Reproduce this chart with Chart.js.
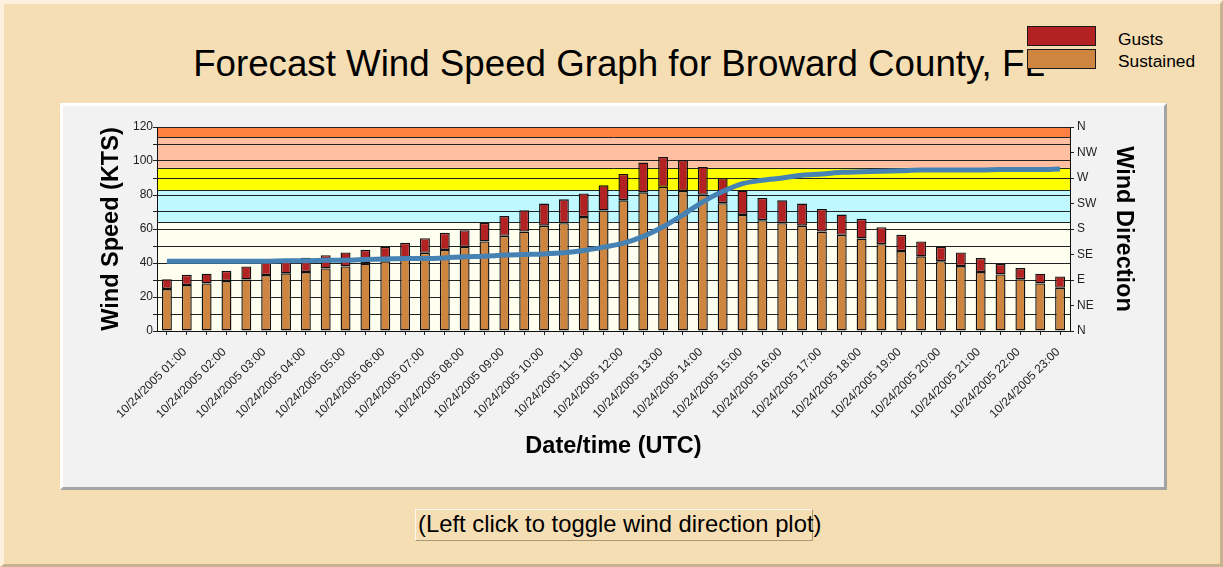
<!DOCTYPE html>
<html>
<head>
<meta charset="utf-8">
<script src="https://cdn.jsdelivr.net/npm/chart.js@4.4.0/dist/chart.umd.min.js"></script>
<style>
html,body{margin:0;padding:0;}
body{width:1223px;height:567px;overflow:hidden;position:relative;font-family:'Liberation Sans',Arial,sans-serif;background:#F5DEB3;}
#frame{position:absolute;left:0;top:0;width:1223px;height:567px;box-sizing:border-box;border-style:solid;border-width:4px 3px 3px 4px;border-color:#FDF1DE #C8B38E #C8B38E #FDF1DE;background:#F5DEB3;}
#title{position:absolute;left:0;width:1238px;top:46px;text-align:center;font-size:36.7px;line-height:36.7px;color:#000;white-space:nowrap;}
.lbox{position:absolute;left:1027px;width:69px;height:20px;box-sizing:border-box;border:1px solid #1a1a1a;}
.ltxt{position:absolute;left:1118px;font-size:17.33px;line-height:17.33px;color:#000;white-space:nowrap;}
#panel{position:absolute;left:60px;top:103px;width:1107px;height:387px;box-sizing:border-box;border-style:solid;border-width:3px;border-color:#ffffff #a3a3a3 #a3a3a3 #ffffff;background:#F2F2F2;}
#chartwrap{position:absolute;left:63px;top:106px;width:1100px;height:380px;}
#btn{position:absolute;left:415px;top:509px;width:398px;height:32px;box-sizing:border-box;border-style:solid;border-width:1px;border-color:#FFF8EC #A89876 #A89876 #FFF8EC;}
#btntxt{position:absolute;left:418px;top:512px;font-size:23.8px;line-height:23.8px;white-space:nowrap;color:#000;}
</style>
</head>
<body>
<div id="frame"></div>
<div id="title">Forecast Wind Speed Graph for Broward County, FL</div>
<div class="lbox" style="top:26px;background:#B22222;"></div>
<div class="lbox" style="top:49px;background:#CD853F;"></div>
<div class="ltxt" style="top:31px;">Gusts</div>
<div class="ltxt" style="top:53px;">Sustained</div>
<div id="panel"></div>
<div id="chartwrap"><canvas id="c" width="1100" height="380"></canvas></div>
<div id="btn"></div>
<div id="btntxt">(Left click to toggle wind direction plot)</div>
<script>
const times = [
"10/24/2005 00:30","10/24/2005 01:00","10/24/2005 01:30","10/24/2005 02:00","10/24/2005 02:30","10/24/2005 03:00",
"10/24/2005 03:30","10/24/2005 04:00","10/24/2005 04:30","10/24/2005 05:00","10/24/2005 05:30","10/24/2005 06:00",
"10/24/2005 06:30","10/24/2005 07:00","10/24/2005 07:30","10/24/2005 08:00","10/24/2005 08:30","10/24/2005 09:00",
"10/24/2005 09:30","10/24/2005 10:00","10/24/2005 10:30","10/24/2005 11:00","10/24/2005 11:30","10/24/2005 12:00",
"10/24/2005 12:30","10/24/2005 13:00","10/24/2005 13:30","10/24/2005 14:00","10/24/2005 14:30","10/24/2005 15:00",
"10/24/2005 15:30","10/24/2005 16:00","10/24/2005 16:30","10/24/2005 17:00","10/24/2005 17:30","10/24/2005 18:00",
"10/24/2005 18:30","10/24/2005 19:00","10/24/2005 19:30","10/24/2005 20:00","10/24/2005 20:30","10/24/2005 21:00",
"10/24/2005 21:30","10/24/2005 22:00","10/24/2005 22:30","10/24/2005 23:00"];

const sustained = [24.7,27,28,29.4,30.3,32.9,33.9,34.7,36.8,38,39.7,41,42,46,47.7,49.5,52.7,56,58.5,61.9,63.4,67,70.9,76.9,81.6,84.8,82.4,80.1,75.2,68.3,65.2,63.4,61.9,58.5,56.6,54.4,51.1,47,43.9,41.1,38.2,34.7,33.3,30.5,28,25.4];
const gusts = [30.5,33.1,33.7,35.4,38,40.5,41.5,43.1,44.6,46.2,47.8,49.5,51.9,54.6,57.8,59.3,63.6,67.7,71.1,75,77.5,80.9,85.7,92.4,99.1,102.4,100.6,96.5,89.9,82.6,78.3,76.9,75,71.8,68.5,66,61.1,56.6,52.7,49.5,46.2,42.9,39.4,37,33.7,32.1];
const direction = [123,123,123,123,123,123,124,124,125,125,126,127,128,128,129,131,132,134,135,136,138,142,148,155,167,184,205,228,246,260,266,270,275,277,280,281,282,283,284,284,284,284,285,285,285,286];

const speedTicks = [0,20,40,60,80,100,120];
const dirLabels = ['N','NE','E','SE','S','SW','W','NW','N'];
const bandEdges = [0,64,83,96,114,120];
const bandColors = ['#FFFFF0','#C0F8FF','#FFFF00','#FFBFA0','#FF8040'];

const FONT = "'Liberation Sans', Arial, sans-serif";
Chart.defaults.font.family = FONT;

const bandPlugin = {
  id: 'bands',
  beforeDraw(chart) {
    const {ctx, chartArea: a, scales: {y}} = chart;
    ctx.save();
    for (let i = 0; i < bandColors.length; i++) {
      const yTop = y.getPixelForValue(bandEdges[i + 1]);
      const yBot = y.getPixelForValue(bandEdges[i]);
      ctx.fillStyle = bandColors[i];
      ctx.fillRect(a.left, yTop, a.right - a.left, yBot - yTop);
    }
    ctx.restore();
  },
  beforeDatasetsDraw(chart) {
    const {ctx, chartArea: a, scales: {y}} = chart;
    ctx.save();
    ctx.strokeStyle = '#222';
    ctx.lineWidth = 1;
    for (let i = 1; i < bandEdges.length - 1; i++) {
      const py = Math.round(y.getPixelForValue(bandEdges[i])) + 0.5;
      ctx.beginPath();
      ctx.moveTo(a.left, py);
      ctx.lineTo(a.right, py);
      ctx.stroke();
    }
    ctx.restore();
  }
};

new Chart(document.getElementById('c'), {
  data: {
    labels: times,
    datasets: [
      {
        type: 'line',
        label: 'Wind Direction',
        data: direction,
        yAxisID: 'y2',
        borderColor: '#4682B4',
        borderWidth: 5,
        pointRadius: 0,
        fill: false,
        cubicInterpolationMode: 'monotone',
        order: 0
      },
      {
        type: 'bar',
        label: 'Gusts',
        data: gusts.map((g, i) => [sustained[i], g]),
        yAxisID: 'y',
        backgroundColor: '#B22222',
        borderColor: '#111',
        borderWidth: 1.4,
        borderSkipped: false,
        barPercentage: 0.5,
        categoryPercentage: 1.0,
        order: 1
      },
      {
        type: 'bar',
        label: 'Sustained',
        data: sustained,
        yAxisID: 'y',
        backgroundColor: '#CD853F',
        borderColor: '#111',
        borderWidth: 1.4,
        borderSkipped: false,
        barPercentage: 0.5,
        categoryPercentage: 1.0,
        order: 2
      }
    ]
  },
  options: {
    responsive: false,
    animation: false,
    devicePixelRatio: 1,
    layout: { padding: { top: 21, left: 0, right: 0, bottom: 0 } },
    plugins: { legend: { display: false }, tooltip: { enabled: false }, title: { display: false } },
    scales: {
      x: {
        stacked: true,
        offset: true,
        grid: { drawOnChartArea: false, drawTicks: true, tickLength: 4, offset: false, color: '#222' },
        border: { color: '#111', width: 1 },
        ticks: {
          autoSkip: false, maxRotation: 45, minRotation: 45, padding: 10, labelOffset: -2,
          color: '#222', font: { size: 12 },
          callback: function(v, i) { const t = times[i]; return t.endsWith(':00') ? t : ''; }
        },
        title: { display: true, text: 'Date/time (UTC)', color: '#000', font: { size: 23.5, weight: 'bold' }, padding: { top: 0, bottom: 25 } },
        afterFit: function(s) { s.height = 155; }
      },
      y: {
        position: 'left',
        min: 0, max: 120,
        grid: { color: '#222', lineWidth: 1, tickLength: 4, drawTicks: true },
        border: { color: '#111', width: 1 },
        ticks: {
          stepSize: 10, maxTicksLimit: 20, autoSkip: false, padding: 0, color: '#222', font: { size: 12 },
          callback: function(v) { return speedTicks.includes(v) ? String(v) : ''; }
        },
        title: { display: true, text: 'Wind Speed (KTS)', color: '#000', font: { size: 23.5, weight: 'bold' }, padding: { top: 34, bottom: 0 } },
        afterFit: function(s) { s.width = 94; }
      },
      y2: {
        position: 'right',
        min: 0, max: 360,
        grid: { drawOnChartArea: false, tickLength: 4, color: '#222' },
        border: { color: '#111', width: 1 },
        ticks: {
          stepSize: 45, maxTicksLimit: 20, autoSkip: false, padding: 3, color: '#222', font: { size: 12 },
          callback: function(v) { return dirLabels[Math.round(v / 45)]; }
        },
        title: { display: true, text: 'Wind Direction', color: '#000', font: { size: 23.5, weight: 'bold' }, padding: { top: 25, bottom: 0 } },
        afterFit: function(s) { s.width = 93; }
      }
    }
  },
  plugins: [bandPlugin]
});
</script>
</body>
</html>
